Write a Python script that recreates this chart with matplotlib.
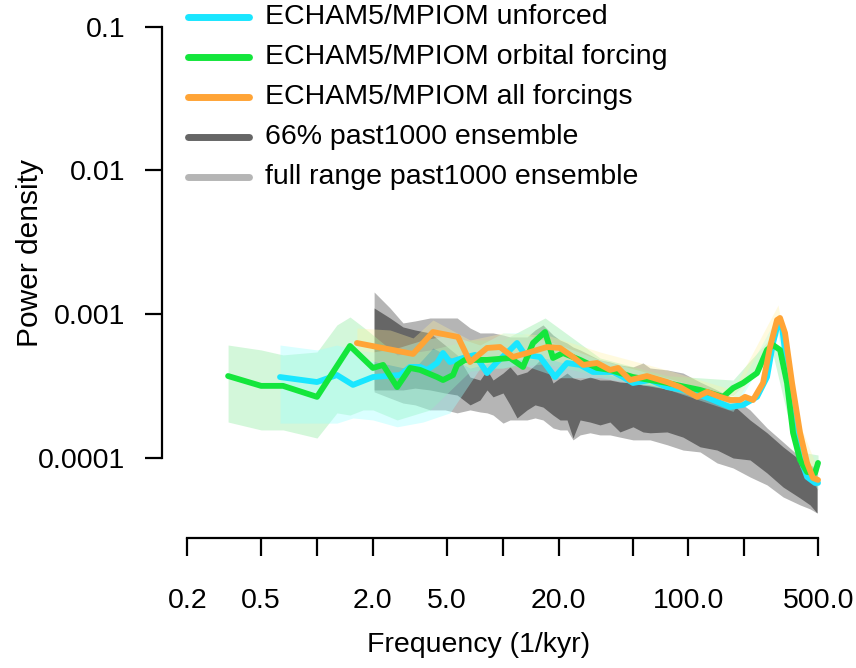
import matplotlib
matplotlib.use('Agg')
import matplotlib.pyplot as plt
from matplotlib.lines import Line2D
from matplotlib.ticker import FixedLocator, FixedFormatter, NullLocator

plt.rcParams['font.family'] = ['Liberation Sans', 'DejaVu Sans']

# ---------------- data ----------------
# ECHAM5/MPIOM unforced
unf_f = [0.632, 1.0, 1.28, 1.562, 2.0, 2.80, 3.17, 3.59, 3.91, 4.43, 4.77, 5.20, 6.11, 7.09, 8.23,
         9.32, 10.95, 11.94, 13.19, 15.88, 19.12, 22.2, 26.1, 30.6, 39.3, 44.4, 50.3, 62.1, 76.7,
         93.5, 115.5, 135.7, 167.5, 196.9, 234.1, 265, 285.5, 303.8, 319.2, 339.6, 365.9, 399,
         435.4, 480.6, 498.8]
unf_p = [0.364e-3, 0.336e-3, 0.376e-3, 0.321e-3, 0.364e-3, 0.376e-3, 0.428e-3, 0.428e-3, 0.408e-3,
         0.456e-3, 0.535e-3, 0.463e-3, 0.494e-3, 0.519e-3, 0.388e-3, 0.463e-3, 0.562e-3, 0.628e-3,
         0.519e-3, 0.502e-3, 0.364e-3, 0.456e-3, 0.442e-3, 0.395e-3, 0.395e-3, 0.364e-3, 0.331e-3,
         0.347e-3, 0.310e-3, 0.296e-3, 0.273e-3, 0.252e-3, 0.225e-3, 0.233e-3, 0.265e-3, 0.364e-3,
         0.628e-3, 0.866e-3, 0.812e-3, 0.428e-3, 0.174e-3, 0.101e-3, 0.0734e-3, 0.0667e-3, 0.0667e-3]

# ECHAM5/MPIOM orbital forcing
orb_f = [0.332, 0.50, 0.656, 1.0, 1.505, 2.0, 2.27, 2.70, 3.17, 3.59, 4.43, 4.77, 5.40, 5.68, 6.26,
         8.23, 10.95, 12.86, 14.56, 16.9, 18.66, 21.12, 26.1, 32.2, 37.8, 50.3, 76.7, 115.5, 153.6,
         173.9, 196.9, 234.1, 265, 285.5, 311.4, 339.6, 365.9, 399, 435.4, 480.6, 498.8]
orb_p = [0.370e-3, 0.316e-3, 0.316e-3, 0.265e-3, 0.599e-3, 0.421e-3, 0.442e-3, 0.310e-3, 0.421e-3,
         0.408e-3, 0.364e-3, 0.347e-3, 0.376e-3, 0.442e-3, 0.479e-3, 0.479e-3, 0.494e-3, 0.428e-3,
         0.628e-3, 0.749e-3, 0.494e-3, 0.535e-3, 0.479e-3, 0.421e-3, 0.408e-3, 0.364e-3, 0.331e-3,
         0.296e-3, 0.265e-3, 0.305e-3, 0.331e-3, 0.388e-3, 0.562e-3, 0.608e-3, 0.562e-3, 0.331e-3,
         0.149e-3, 0.0964e-3, 0.0795e-3, 0.0782e-3, 0.0919e-3]

# ECHAM5/MPIOM all forcings
all_f = [1.64, 3.29, 4.21, 5.74, 6.67, 8.23, 9.67, 11.36, 13.52, 17.32, 20.35, 23.9, 27.1, 32.2,
         37.8, 41.8, 48.5, 59.8, 76.7, 90.1, 111.3, 126, 148, 167.5, 189.7, 201.8, 222.8, 252.2,
         275, 300, 311.4, 331.3, 361.4, 399, 435.4, 468.8, 498.8]
all_p = [0.628e-3, 0.527e-3, 0.749e-3, 0.692e-3, 0.463e-3, 0.580e-3, 0.589e-3, 0.502e-3, 0.535e-3,
         0.589e-3, 0.580e-3, 0.502e-3, 0.442e-3, 0.456e-3, 0.408e-3, 0.421e-3, 0.347e-3, 0.370e-3,
         0.336e-3, 0.310e-3, 0.265e-3, 0.287e-3, 0.265e-3, 0.252e-3, 0.252e-3, 0.265e-3, 0.252e-3,
         0.331e-3, 0.589e-3, 0.908e-3, 0.938e-3, 0.738e-3, 0.331e-3, 0.149e-3, 0.0919e-3, 0.0722e-3,
         0.0700e-3]

# confidence bands of the model runs
unf_band_f = [0.632, 1.0, 1.28, 1.562, 2.0, 2.70, 3.72, 5.20, 7.55, 10.04, 12.40, 20.35, 33.4, 76.7,
              173.9, 303.8, 399, 498.8]
unf_band_hi = [0.608e-3, 0.562e-3, 0.608e-3, 0.562e-3, 0.544e-3, 0.580e-3, 0.659e-3, 0.714e-3,
               0.608e-3, 0.738e-3, 0.738e-3, 0.608e-3, 0.479e-3, 0.359e-3, 0.265e-3, 0.984e-3,
               0.113e-3, 0.0758e-3]
unf_band_lo = [0.174e-3, 0.174e-3, 0.174e-3, 0.189e-3, 0.183e-3, 0.164e-3, 0.177e-3, 0.205e-3,
               0.420e-3, 0.420e-3, 0.450e-3, 0.360e-3, 0.360e-3, 0.300e-3, 0.210e-3, 0.714e-3,
               0.0890e-3, 0.0596e-3]

orb_band_f = [0.332, 0.50, 0.656, 1.0, 1.28, 1.505, 1.77, 2.0, 2.70, 4.06, 6.67, 10.04, 16.9, 33.4,
              76.7, 173.9, 285.5, 399, 498.8]
orb_band_hi = [0.608e-3, 0.562e-3, 0.519e-3, 0.544e-3, 0.839e-3, 0.953e-3, 0.812e-3, 0.714e-3,
               0.519e-3, 0.562e-3, 0.659e-3, 0.659e-3, 0.938e-3, 0.494e-3, 0.372e-3, 0.347e-3,
               0.714e-3, 0.1096e-3, 0.1044e-3]
orb_band_lo = [0.177e-3, 0.156e-3, 0.156e-3, 0.137e-3, 0.205e-3, 0.198e-3, 0.215e-3, 0.215e-3,
               0.183e-3, 0.215e-3, 0.400e-3, 0.420e-3, 0.450e-3, 0.370e-3, 0.300e-3, 0.270e-3,
               0.519e-3, 0.0848e-3, 0.0795e-3]

all_band_f = [1.64, 2.472, 3.29, 4.21, 6.67, 10.04, 17.32, 33.4, 76.7, 173.9, 303.8, 399, 498.8]
all_band_hi = [0.799e-3, 0.774e-3, 0.681e-3, 0.908e-3, 0.659e-3, 0.738e-3, 0.714e-3, 0.544e-3,
               0.408e-3, 0.296e-3, 1.155e-3, 0.169e-3, 0.0821e-3]
all_band_lo = [0.494e-3, 0.442e-3, 0.408e-3, 0.580e-3, 0.420e-3, 0.480e-3, 0.490e-3, 0.390e-3,
               0.300e-3, 0.225e-3, 0.749e-3, 0.1286e-3, 0.0596e-3]

# past1000 ensemble
ens_f = [2.03, 2.472, 2.905, 3.372, 4.06, 4.89, 5.68, 6.67, 7.55, 8.23, 8.87, 10.04, 10.95, 11.94,
         13.52, 14.93, 16.48, 18.66, 20.35, 22.2, 23.9, 26.1, 29.5, 33.4, 37.8, 42.8, 50.3, 56.9,
         62.1, 76.7, 93.5, 115.5, 142.6, 173.9, 214.6, 265, 323.2, 399, 451.7, 492.6]
full_hi = [1.422e-3, 1.101e-3, 0.866e-3, 0.894e-3, 0.938e-3, 0.938e-3, 0.938e-3, 0.799e-3, 0.738e-3,
           0.738e-3, 0.738e-3, 0.714e-3, 0.692e-3, 0.692e-3, 0.692e-3, 0.774e-3, 0.839e-3, 0.714e-3,
           0.659e-3, 0.628e-3, 0.589e-3, 0.562e-3, 0.519e-3, 0.479e-3, 0.463e-3, 0.442e-3, 0.428e-3,
           0.456e-3, 0.421e-3, 0.408e-3, 0.388e-3, 0.336e-3, 0.296e-3, 0.260e-3, 0.215e-3, 0.161e-3,
           0.1286e-3, 0.101e-3, 0.0890e-3, 0.0848e-3]
full_lo = [0.287e-3, 0.260e-3, 0.240e-3, 0.233e-3, 0.215e-3, 0.215e-3, 0.205e-3, 0.215e-3, 0.208e-3,
           0.205e-3, 0.198e-3, 0.174e-3, 0.183e-3, 0.183e-3, 0.183e-3, 0.189e-3, 0.183e-3, 0.161e-3,
           0.156e-3, 0.156e-3, 0.133e-3, 0.144e-3, 0.149e-3, 0.144e-3, 0.144e-3, 0.139e-3, 0.133e-3,
           0.133e-3, 0.133e-3, 0.123e-3, 0.113e-3, 0.1096e-3, 0.0919e-3, 0.0848e-3, 0.0734e-3,
           0.0646e-3, 0.0533e-3, 0.0469e-3, 0.0440e-3, 0.0412e-3]
q66_hi = [1.101e-3, 0.938e-3, 0.812e-3, 0.774e-3, 0.738e-3, 0.608e-3, 0.519e-3, 0.364e-3, 0.347e-3,
          0.408e-3, 0.347e-3, 0.388e-3, 0.428e-3, 0.376e-3, 0.395e-3, 0.442e-3, 0.502e-3, 0.331e-3,
          0.359e-3, 0.388e-3, 0.359e-3, 0.347e-3, 0.364e-3, 0.347e-3, 0.347e-3, 0.336e-3, 0.331e-3,
          0.321e-3, 0.321e-3, 0.305e-3, 0.287e-3, 0.265e-3, 0.252e-3, 0.233e-3, 0.183e-3, 0.149e-3,
          0.119e-3, 0.0964e-3, 0.0876e-3, 0.0821e-3]
q66_lo = [0.296e-3, 0.296e-3, 0.296e-3, 0.305e-3, 0.296e-3, 0.282e-3, 0.273e-3, 0.233e-3, 0.252e-3,
          0.296e-3, 0.265e-3, 0.282e-3, 0.233e-3, 0.189e-3, 0.215e-3, 0.233e-3, 0.225e-3, 0.198e-3,
          0.183e-3, 0.183e-3, 0.137e-3, 0.183e-3, 0.177e-3, 0.169e-3, 0.177e-3, 0.151e-3, 0.164e-3,
          0.151e-3, 0.149e-3, 0.151e-3, 0.139e-3, 0.119e-3, 0.113e-3, 0.0995e-3, 0.0964e-3,
          0.0782e-3, 0.0625e-3, 0.0524e-3, 0.0469e-3, 0.0412e-3]

x_ticks = [0.2, 0.5, 1, 2, 5, 10, 20, 50, 100, 200, 500]
x_tick_labels = ['0.2', '0.5', '', '2.0', '5.0', '', '20.0', '', '100.0', '', '500.0']
y_ticks = [1e-4, 1e-3, 1e-2, 1e-1]
y_tick_labels = ['0.0001', '0.001', '0.01', '0.1']

legend_labels = ['ECHAM5/MPIOM unforced', 'ECHAM5/MPIOM orbital forcing',
                 'ECHAM5/MPIOM all forcings', '66% past1000 ensemble',
                 'full range past1000 ensemble']

# ---------------- style ----------------
c_unf = '#19E6FF'
c_orb = '#14E63C'
c_all = '#FFA436'
c_dark = '#666666'
c_light = '#B5B5B5'

W, H = 856, 668
fig = plt.figure(figsize=(W / 100, H / 100), dpi=100)
ax = fig.add_axes([162 / W, (H - 538) / H, (835 - 162) / W, (538 - 10) / H])
ax.set_xscale('log')
ax.set_yscale('log')
ax.set_xlim(0.1463, 615.6)
ax.set_ylim(2.76e-5, 0.1305)

ax.fill_between(ens_f, full_lo, full_hi, color=c_light, lw=0, zorder=1)
ax.fill_between(ens_f, q66_lo, q66_hi, color=c_dark, lw=0, zorder=2)
ax.fill_between(orb_band_f, orb_band_lo, orb_band_hi, color=(0.55, 0.92, 0.62), alpha=0.38, lw=0, zorder=3)
ax.fill_between(unf_band_f, unf_band_lo, unf_band_hi, color=(0.62, 1.0, 1.0), alpha=0.38, lw=0, zorder=3)
ax.fill_between(all_band_f, all_band_lo, all_band_hi, color=(1.0, 0.95, 0.62), alpha=0.32, lw=0, zorder=3)

lw = 4.2
ax.plot(unf_f, unf_p, color=c_unf, lw=lw, solid_joinstyle='round', solid_capstyle='round', zorder=5)
ax.plot(orb_f, orb_p, color=c_orb, lw=lw, solid_joinstyle='round', solid_capstyle='round', zorder=6)
ax.plot(all_f, all_p, color=c_all, lw=lw, solid_joinstyle='round', solid_capstyle='round', zorder=7)

for s in ['top', 'right']:
    ax.spines[s].set_visible(False)
ax.spines['left'].set_bounds(1e-4, 0.1)
ax.spines['bottom'].set_bounds(0.2, 500)
for s in ['left', 'bottom']:
    ax.spines[s].set_linewidth(1.6)

ax.xaxis.set_major_locator(FixedLocator(x_ticks))
ax.xaxis.set_major_formatter(FixedFormatter(x_tick_labels))
ax.xaxis.set_minor_locator(NullLocator())
ax.yaxis.set_major_locator(FixedLocator(y_ticks))
ax.yaxis.set_major_formatter(FixedFormatter(y_tick_labels))
ax.yaxis.set_minor_locator(NullLocator())
ax.tick_params(axis='x', length=13, width=1.6, labelsize=20.5, pad=23)
ax.tick_params(axis='y', length=12.5, width=1.6, labelsize=20.5, pad=14)

fig.text(30 / W, 1 - 253 / H, 'Power density', rotation=90, ha='center', va='center', fontsize=21.5)
fig.text(479 / W, 1 - 645 / H, 'Frequency (1/kyr)', ha='center', va='center', fontsize=20.5)

leg_colors = [c_unf, c_orb, c_all, c_dark, c_light]
for i, (lab, col) in enumerate(zip(legend_labels, leg_colors)):
    y = 1 - (17 + 40 * i) / H
    fig.add_artist(Line2D([188 / W, 249 / W], [y, y], color=col, lw=5, solid_capstyle='round'))
    fig.text(265 / W, y, lab, ha='left', va='center', fontsize=20.5)

fig.savefig('out.png', dpi=100)
